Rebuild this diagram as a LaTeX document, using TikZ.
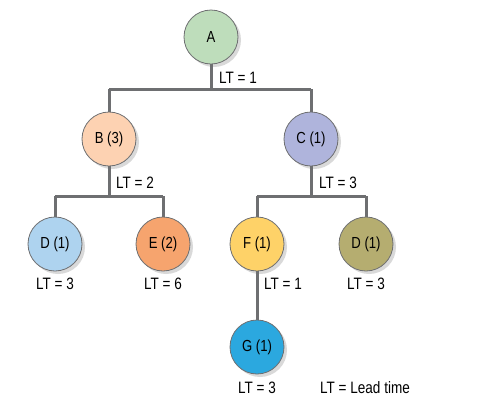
\documentclass[tikz,border=0pt]{standalone}
\usepackage{fontspec}
\setmainfont[FakeStretch=0.82]{Liberation Sans}
\usetikzlibrary{shadows}
\definecolor{cA}{RGB}{190,221,187}
\definecolor{cB}{RGB}{253,210,178}
\definecolor{cC}{RGB}{175,180,220}
\definecolor{cD}{RGB}{174,211,239}
\definecolor{cE}{RGB}{246,164,110}
\definecolor{cF}{RGB}{254,210,104}
\definecolor{cDD}{RGB}{181,173,112}
\definecolor{cG}{RGB}{43,168,223}
\definecolor{linec}{RGB}{110,111,113}
\tikzset{
  part/.style={circle, draw=linec, line width=0.8pt, minimum size=54pt, inner sep=0pt, font=\fontsize{16}{18}\selectfont,
    drop shadow={shadow xshift=3pt, shadow yshift=-3pt, fill=black!15, opacity=1}},
  link/.style={draw=linec, line width=3pt},
  lt/.style={font=\fontsize{16.5}{18}\selectfont, inner sep=0pt}
}
\begin{document}
\begin{tikzpicture}[x=1pt,y=-1pt]
\useasboundingbox (0,0) rectangle (483,413);
\coordinate (barA) at (211,89);
\coordinate (barB) at (109,196);
\coordinate (barC) at (311,196);
\node[part, fill=cA] (A) at (211,37) {A};
\node[part, fill=cB] (B) at (109,139) {B (3)};
\node[part, fill=cC] (C) at (311,139) {C (1)};
\node[part, fill=cD] (D1) at (55,244) {D (1)};
\node[part, fill=cE] (E) at (163,244) {E (2)};
\node[part, fill=cF] (F) at (257,244) {F (1)};
\node[part, fill=cDD] (D2) at (366,244) {D (1)};
\node[part, fill=cG] (G) at (257,347) {G (1)};
\path[link] (A.south) -- (barA) (B.north |- barA) -- (C.north |- barA);
\path[link] (B.north |- barA) -- (B.north) (C.north |- barA) -- (C.north);
\path[link] (B.south) -- (barB) (D1.north |- barB) -- (E.north |- barB);
\path[link] (D1.north |- barB) -- (D1.north) (E.north |- barB) -- (E.north);
\path[link] (C.south) -- (barC) (F.north |- barC) -- (D2.north |- barC);
\path[link] (F.north |- barC) -- (F.north) (D2.north |- barC) -- (D2.north);
\path[link] (F.south) -- (G.north);
\node[lt, anchor=west] (lA) at (219,78) {LT = 1};
\node[lt, anchor=west] (lB) at (116,183) {LT = 2};
\node[lt, anchor=west] (lC) at (319,183) {LT = 3};
\node[lt] (lD1) at (55,284) {LT = 3};
\node[lt] (lE) at (163,284) {LT = 6};
\node[lt, anchor=west] (lF) at (264,284) {LT = 1};
\node[lt] (lD2) at (366,284) {LT = 3};
\node[lt] (lG) at (257,388) {LT = 3};
\node[lt, anchor=west] (key) at (320,388) {LT = Lead time};
\end{tikzpicture}
\end{document}
